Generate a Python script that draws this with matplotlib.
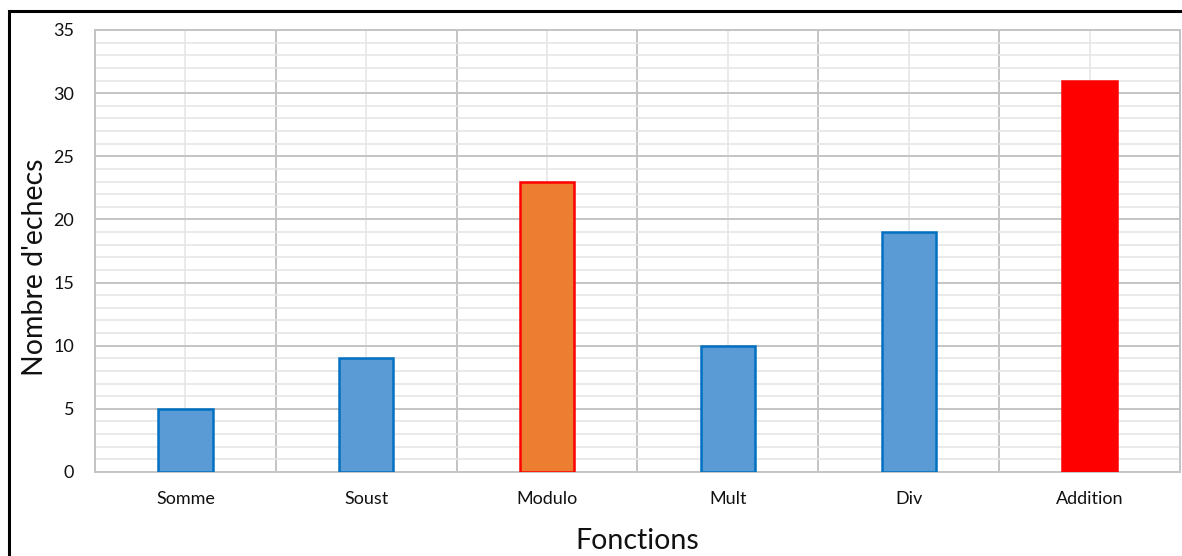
import matplotlib
matplotlib.use("Agg")
import matplotlib.pyplot as plt
from matplotlib.patches import Rectangle
import numpy as np

plt.rcParams['font.family'] = ['Lato', 'DejaVu Sans']

fonctions = ["Somme", "Soust", "Modulo", "Mult", "Div", "Addition"]
echecs = [5, 9, 23, 10, 19, 31]
couleurs = ["#5B9BD5", "#5B9BD5", "#ED7D31", "#5B9BD5", "#5B9BD5", "#FF0000"]
bords = ["#0070C0", "#0070C0", "#FF0000", "#0070C0", "#0070C0", "#FF0000"]

fig = plt.figure(figsize=(11.82, 5.56), dpi=100)
ax = fig.add_axes([95 / 1182, 1 - 472 / 556, 1085 / 1182, 442 / 556])

x = np.arange(len(fonctions))
ax.bar(x, echecs, width=0.3, color=couleurs, edgecolor=bords, linewidth=1.8, zorder=3)

ax.set_xlim(-0.5, len(fonctions) - 0.5)
ax.set_ylim(0, 35)
ax.set_yticks(np.arange(0, 36, 5))
ax.set_yticks(np.arange(0, 36, 1), minor=True)
ax.set_xticks(x)
ax.set_xticks(np.arange(-0.5, len(fonctions), 1), minor=True)
ax.set_xticklabels(fonctions, fontsize=13, color="#111111")
ax.tick_params(axis="y", labelsize=13, labelcolor="#111111", pad=15)
ax.tick_params(axis="x", pad=14)
ax.tick_params(which="both", length=0)

# grille façon tableur
ax.grid(which="major", axis="y", color="#C4C4C4", linewidth=1.4, zorder=0)
ax.grid(which="minor", axis="y", color="#E6E6E6", linewidth=1.2, zorder=0)
ax.grid(which="minor", axis="x", color="#C4C4C4", linewidth=1.4, zorder=0)
ax.grid(which="major", axis="x", color="#E6E6E6", linewidth=1.2, zorder=0)
for s in ax.spines.values():
    s.set_color("#C4C4C4")
    s.set_linewidth(1.4)

ax.set_xlabel("Fonctions", fontsize=20.5, color="#111111", labelpad=15)
ax.set_ylabel("Nombre d'echecs", fontsize=20.5, color="#111111")
ax.yaxis.set_label_coords(-0.043, 0.464)

# cadre extérieur
fig.patches.append(Rectangle((9 / 1182, -0.1), 1.2, 1.1 - 11 / 556,
                             transform=fig.transFigure, fill=False,
                             edgecolor="black", linewidth=2.2, zorder=10))

fig.savefig("out.png", dpi=100)
